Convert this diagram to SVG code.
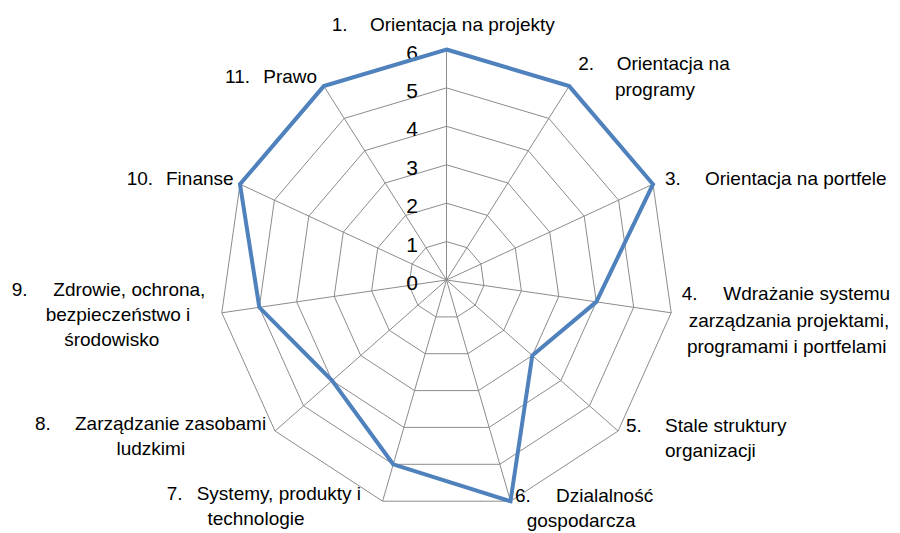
<svg xmlns="http://www.w3.org/2000/svg" width="900" height="533" viewBox="0 0 900 533">
<style>
.grid{fill:none;stroke:#8c8c8c;stroke-width:1}
.axis{stroke:#8c8c8c;stroke-width:1}
.series{fill:none;stroke:#4F81BD;stroke-width:4;stroke-linejoin:miter}
.lbl{font-family:"Liberation Sans",Arial,sans-serif;font-size:19px;fill:#000}
.tick{font-family:"Liberation Sans",Arial,sans-serif;font-size:21px;fill:#000;text-anchor:end}
.c{text-anchor:middle}
</style>
<rect width="900" height="533" fill="#fff"/>
<g id="grid">
<polygon class="grid" points="446.5,241.6 467.0,247.7 480.9,264.0 483.9,285.5 475.1,305.2 457.2,316.9 435.8,316.9 417.9,305.2 409.1,285.5 412.1,264.0 426.0,247.7"/>
<polygon class="grid" points="446.5,203.2 487.4,215.4 515.3,248.1 521.4,290.9 503.7,330.3 467.8,353.7 425.2,353.7 389.3,330.3 371.6,290.9 377.7,248.1 405.6,215.4"/>
<polygon class="grid" points="446.5,164.8 507.9,183.0 549.7,232.1 558.8,296.4 532.3,355.5 478.5,390.6 414.5,390.6 360.7,355.5 334.2,296.4 343.3,232.1 385.1,183.0"/>
<polygon class="grid" points="446.5,126.3 528.3,150.7 584.2,216.2 596.3,301.9 560.9,380.6 489.1,427.4 403.9,427.4 332.1,380.6 296.7,301.9 308.8,216.2 364.7,150.7"/>
<polygon class="grid" points="446.5,87.9 548.8,118.4 618.6,200.2 633.7,307.3 589.5,405.8 499.8,464.3 393.2,464.3 303.5,405.8 259.3,307.3 274.4,200.2 344.2,118.4"/>
<polygon class="grid" points="446.5,49.5 569.2,86.1 653.0,184.2 671.2,312.8 618.1,431.0 510.5,501.2 382.6,501.2 275.0,431.0 221.8,312.8 240.0,184.2 323.8,86.1"/>
</g>
<g id="axes">
<line class="axis" x1="446.5" y1="280" x2="446.5" y2="49.5"/>
<line class="axis" x1="446.5" y1="280" x2="569.2" y2="86.1"/>
<line class="axis" x1="446.5" y1="280" x2="653.0" y2="184.2"/>
<line class="axis" x1="446.5" y1="280" x2="671.2" y2="312.8"/>
<line class="axis" x1="446.5" y1="280" x2="618.1" y2="431.0"/>
<line class="axis" x1="446.5" y1="280" x2="510.5" y2="501.2"/>
<line class="axis" x1="446.5" y1="280" x2="382.6" y2="501.2"/>
<line class="axis" x1="446.5" y1="280" x2="275.0" y2="431.0"/>
<line class="axis" x1="446.5" y1="280" x2="221.8" y2="312.8"/>
<line class="axis" x1="446.5" y1="280" x2="240.0" y2="184.2"/>
<line class="axis" x1="446.5" y1="280" x2="323.8" y2="86.1"/>
</g>
<g id="scale">
<text class="tick" x="418" y="290">0</text>
<text class="tick" x="418" y="251.6">1</text>
<text class="tick" x="418" y="213.2">2</text>
<text class="tick" x="418" y="174.8">3</text>
<text class="tick" x="418" y="136.3">4</text>
<text class="tick" x="418" y="97.9">5</text>
<text class="tick" x="418" y="59.5">6</text>
</g>
<g id="series">
<polygon class="series" points="446.5,49.5 569.2,86.1 653.0,184.2 596.3,301.9 532.3,355.5 510.5,501.2 393.2,464.3 332.1,380.6 259.3,307.3 240.0,184.2 323.8,86.1"/>
</g>
<g id="label1" class="lbl"><text x="331.7" y="31">1.</text><text x="370" y="31">Orientacja na projekty</text></g>
<g id="label2" class="lbl"><text x="578.3" y="70">2.</text><text x="616.7" y="70">Orientacja na</text><text class="c" x="655" y="96">programy</text></g>
<g id="label3" class="lbl"><text x="665" y="185">3.</text><text x="705" y="185">Orientacja na portfele</text></g>
<g id="label4" class="lbl"><text x="681.7" y="300">4.</text><text x="723.3" y="300">Wdrażanie systemu</text><text class="c" x="789" y="326.7">zarządzania projektami,</text><text class="c" x="786.7" y="353">programami i portfelami</text></g>
<g id="label5" class="lbl"><text x="626" y="432">5.</text><text x="665" y="432">Stale struktury</text><text x="665" y="457">organizacji</text></g>
<g id="label6" class="lbl"><text x="515" y="502">6.</text><text x="556" y="502">Dzialalność</text><text x="526.7" y="527">gospodarcza</text></g>
<g id="label7" class="lbl"><text x="166.7" y="500">7.</text><text x="196.7" y="500">Systemy, produkty i</text><text class="c" x="256" y="525">technologie</text></g>
<g id="label8" class="lbl"><text x="35" y="430">8.</text><text x="75" y="430">Zarządzanie zasobami</text><text class="c" x="150.8" y="455">ludzkimi</text></g>
<g id="label9" class="lbl"><text x="11.7" y="296">9.</text><text x="53.3" y="296">Zdrowie, ochrona,</text><text class="c" x="118" y="321">bezpieczeństwo i</text><text class="c" x="111.7" y="346">środowisko</text></g>
<g id="label10" class="lbl"><text x="126.7" y="185">10.</text><text x="166" y="185">Finanse</text></g>
<g id="label11" class="lbl"><text x="225" y="83.3">11.</text><text x="263.3" y="83.3">Prawo</text></g>
</svg>
